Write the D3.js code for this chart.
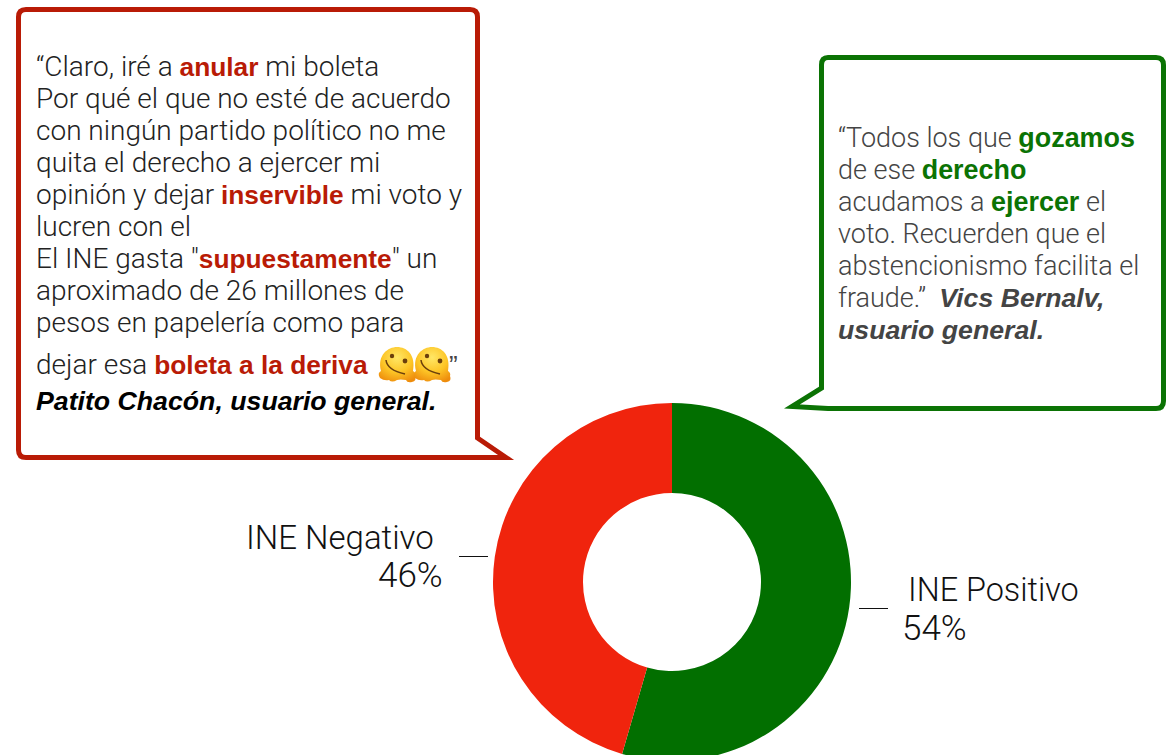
<!DOCTYPE html>
<html><head><meta charset="utf-8">
<script src="https://cdnjs.cloudflare.com/ajax/libs/d3/7.8.5/d3.min.js"></script>
<style>html,body{margin:0;padding:0;background:#fff;overflow:hidden}svg{display:block}
text{font-family:"Liberation Sans",Arial,sans-serif}</style></head><body>
<svg id="c" width="1166" height="755"></svg>
<script>
const categories=["INE Positivo","INE Negativo"];
const shareLabels=["54%","46%"];
const sliceValues=[54.5,45.5];
const sliceColors=["#026F00","#F0240D"];
const leftLines=[
 [["“Claro, iré a ","n"],["anular","b"],[" mi boleta","n"]],
 [["Por qué el que no esté de acuerdo","n"]],
 [["con ningún partido político no me","n"]],
 [["quita el derecho a ejercer mi","n"]],
 [["opinión y dejar ","n"],["inservible","b"],[" mi voto y","n"]],
 [["lucren con el","n"]],
 [["El INE gasta \"","n"],["supuestamente","b"],["\" un","n"]],
 [["aproximado de 26 millones de","n"]],
 [["pesos en papelería como para","n"]],
 [["dejar esa ","n"],["boleta a la deriva","b"]],
 [["Patito Chacón, usuario general.","a"]]
];
const rightLines=[
 [["“Todos los que ","n"],["gozamos","b"]],
 [["de ese ","n"],["derecho","b"]],
 [["acudamos a ","n"],["ejercer","b"],[" el","n"]],
 [["voto. Recuerden que el","n"]],
 [["abstencionismo facilita el","n"]],
 [["fraude.”  ","n"],["Vics Bernalv,","a"]],
 [["usuario general.","a"]]
];
const leftY=[76,108,140,172,204,236,268,300,332,374,410];
const rightY=[147,179,211,243,275,307,339];
const svg=d3.select("#c");
const cx=672,cy=582,R=179,r=89;
const pie=d3.pie().sort(null)(sliceValues);
const arc=d3.arc().innerRadius(r).outerRadius(R);
svg.append("g").attr("transform",`translate(${cx},${cy})`).selectAll("path").data(pie).join("path")
 .attr("d",arc).attr("fill",(d,i)=>sliceColors[i]);

function bubble(d,col){svg.append("path").attr("d",d).attr("fill","#fff").attr("stroke",col).attr("stroke-width",5).attr("stroke-linejoin","miter").attr("stroke-miterlimit",8);}
bubble("M26,9.5 H470 Q477.5,9.5 477.5,17 V438 L506,457.5 H26 Q18.5,457.5 18.5,450 V17 Q18.5,9.5 26,9.5 Z","#B91B06");
bubble("M828,57.5 H1156 Q1163.5,57.5 1163.5,65 V401 Q1163.5,408.5 1156,408.5 H828 L792,406.5 L821.5,388 V65 Q821.5,57.5 828,57.5 Z","#0B7304");

const normalFont='Roboto';
function draw(lines,ys,x,accent,normal,author,size,boldSize){
 lines.forEach((ln,i)=>{
  const t=svg.append("text").attr("x",x).attr("y",ys[i]).style("white-space","pre");
  ln.forEach(([s,k])=>{
   const sp=t.append("tspan").text(s);
   if(k==="n")sp.attr("fill",normal).style("font-family",normalFont).style("font-weight",300).attr("font-size",size);
   if(k==="b")sp.attr("fill",accent).attr("font-weight",700).attr("font-size",boldSize);
   if(k==="a")sp.attr("fill",author).attr("font-weight",700).attr("font-style","italic").attr("font-size",26.7);
  });
 });
}
draw(leftLines,leftY,36,"#B91B06","#222","#000",28,26.3);
draw(rightLines,rightY,838,"#0B7304","#444","#444",27,26.9);

// melting-face emoji
const defs=svg.append("defs");
const g=defs.append("radialGradient").attr("id","em").attr("cx","50%").attr("cy","30%").attr("r","75%");
[[0,"#FFE766"],[.55,"#FDC526"],[1,"#EE8C0C"]].forEach(([o,c])=>g.append("stop").attr("offset",o).attr("stop-color",c));
const emojiX=[397,432];
emojiX.forEach(x=>{
 const e=svg.append("g").attr("transform",`translate(${x},363)`);
 e.append("path").attr("fill","url(#em)").attr("d","M-16,8 C-20,-8 -9,-16 0,-16 C10,-16 19,-8 16,8 Q19,10 18,13 Q20,18 15,19 Q10,20 9,17 Q3,16 0,17 Q-5,20 -8,17 Q-13,18 -17,15 Q-20,10 -16,8 Z");
 e.append("circle").attr("cx",-5).attr("cy",-7).attr("r",2.2).attr("fill","#6b3f0c");
 e.append("circle").attr("cx",8).attr("cy",-2).attr("r",2.4).attr("fill","#6b3f0c");
 e.append("path").attr("d","M-11,-3 Q-10,7 8,11").attr("fill","none").attr("stroke","#6b3f0c").attr("stroke-width",1.5);
});
svg.append("text").attr("x",449).attr("y",374).attr("font-size",26).attr("fill","#444").text("”");

// labels
const labels=[
 {t:categories[1],x:246,y:549,s:33},{t:shareLabels[1],x:378,y:587,s:35},
 {t:categories[0],x:908,y:601,s:32.4},{t:shareLabels[0],x:902,y:640,s:35}];
labels.forEach(l=>svg.append("text").attr("x",l.x).attr("y",l.y).attr("font-size",l.s).style("font-family",normalFont).style("font-weight",300).attr("fill","#111").text(l.t));
[[459,488,556.5],[859,888,608.5]].forEach(([a,b,y])=>svg.append("line").attr("x1",a).attr("x2",b).attr("y1",y).attr("y2",y).attr("stroke","#111").attr("stroke-width",1));
</script></body></html>
